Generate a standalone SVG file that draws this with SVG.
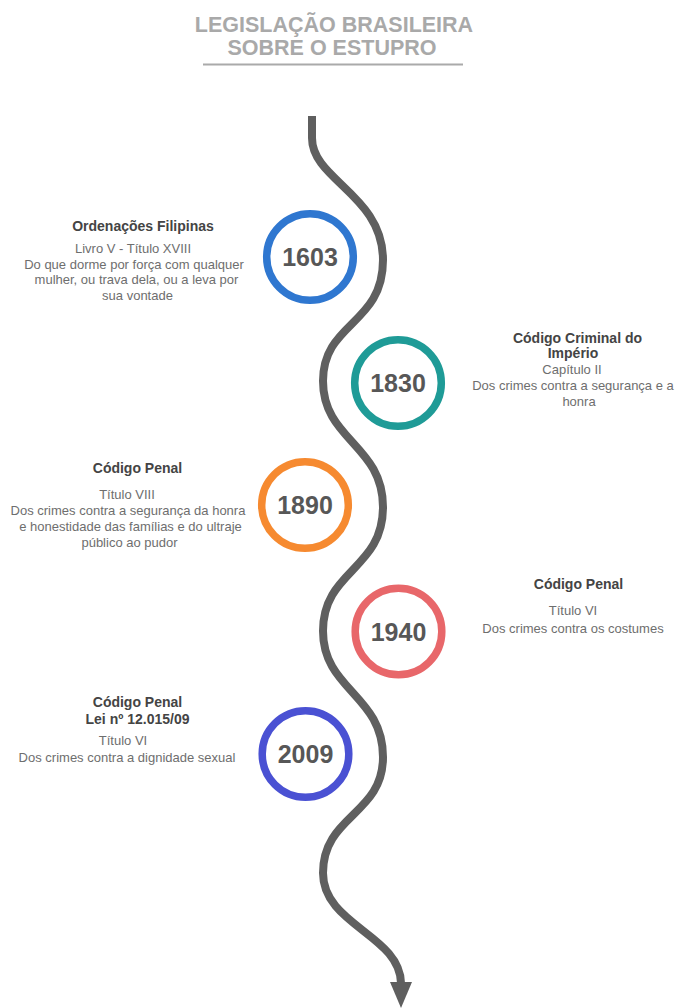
<svg xmlns="http://www.w3.org/2000/svg" width="677" height="1008" viewBox="0 0 677 1008">
<style>
text{font-family:"Liberation Sans",Arial,sans-serif;text-anchor:middle}
.title{font-size:21.5px;font-weight:bold;fill:#a9a9a9}
.h{font-size:14px;font-weight:bold;fill:#444}
.b{font-size:13px;fill:#6e6e6e}
.yr{font-size:25px;font-weight:bold;fill:#575757}
.ring{fill:#fff;stroke-width:7.5}
</style>
<rect width="677" height="1008" fill="#fff"/>
<g id="title">
<text class="title" x="334" y="32">LEGISLAÇÃO BRASILEIRA</text>
<text class="title" x="332" y="55">SOBRE O ESTUPRO</text>
<line x1="203" y1="64.5" x2="463" y2="64.5" stroke="#aaa" stroke-width="2"/>
</g>
<g id="connectors">
<path d="M312 116 L312 138 C312 180 383 195 383 260 C383 325 323 322 323 381 C323 440 383 445 383 507 C383 570 323 570 323 631 C323 690 383 695 383 757 C383 815 323 815 323 873 C323 925 400 935 401 983" fill="none" stroke="#5f5f5f" stroke-width="8"/>
<polygon points="390,982 412,982 401,1008" fill="#5f5f5f"/>
</g>
<g id="n1603">
<circle class="ring" cx="310" cy="257" r="43.3" stroke="#2f77d0"/>
<text class="yr" x="310" y="266">1603</text>
<text class="h" x="143" y="231">Ordenações Filipinas</text>
<text class="b" x="133" y="253">Livro V - Título XVIII</text>
<text class="b" x="134" y="269">Do que dorme por força com qualquer</text>
<text class="b" x="136.5" y="284">mulher, ou trava dela, ou a leva por</text>
<text class="b" x="137.5" y="300">sua vontade</text>
</g>
<g id="n1830">
<circle class="ring" cx="398" cy="383" r="43.3" stroke="#1f9b97"/>
<text class="yr" x="398" y="392">1830</text>
<text class="h" x="577.5" y="343">Código Criminal do</text>
<text class="h" x="573" y="358">Império</text>
<text class="b" x="572" y="374">Capítulo II</text>
<text class="b" x="573" y="390">Dos crimes contra a segurança e a</text>
<text class="b" x="579" y="406">honra</text>
</g>
<g id="n1890">
<circle class="ring" cx="305" cy="505" r="43.3" stroke="#f68a30"/>
<text class="yr" x="305" y="514">1890</text>
<text class="h" x="137.5" y="473">Código Penal</text>
<text class="b" x="127" y="499">Título VIII</text>
<text class="b" x="128" y="515">Dos crimes contra a segurança da honra</text>
<text class="b" x="130.5" y="531">e honestidade das famílias e do ultraje</text>
<text class="b" x="129.5" y="547">público ao pudor</text>
</g>
<g id="n1940">
<circle class="ring" cx="398.5" cy="631.5" r="43.3" stroke="#e8676a"/>
<text class="yr" x="398.5" y="640.5">1940</text>
<text class="h" x="578.5" y="589">Código Penal</text>
<text class="b" x="573" y="615">Título VI</text>
<text class="b" x="573" y="633">Dos crimes contra os costumes</text>
</g>
<g id="n2009">
<circle class="ring" cx="305.5" cy="754" r="43.3" stroke="#4a51d3"/>
<text class="yr" x="305.5" y="763">2009</text>
<text class="h" x="137.5" y="707">Código Penal</text>
<text class="h" x="137.5" y="724">Lei nº 12.015/09</text>
<text class="b" x="123" y="745">Título VI</text>
<text class="b" x="127" y="762">Dos crimes contra a dignidade sexual</text>
</g>
</svg>
